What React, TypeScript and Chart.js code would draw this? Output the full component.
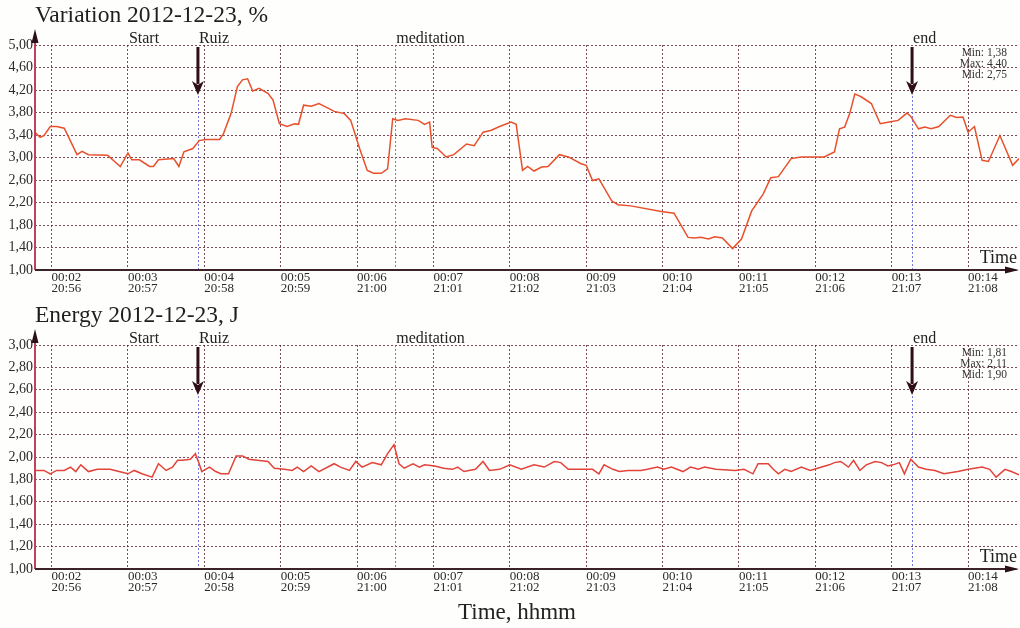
import React, { useEffect, useRef } from 'react';
import { Chart, registerables } from 'chart.js';

Chart.register(...registerables);

// ---------- data ----------
const varTimes = [107,111,114,119,124,130,140,144,149,164,174,180,183,189,197,200,204,216,220,224,231,236,241,252,255,261,266,270,274,278,283,290,294,299,305,311,314,318,324,330,338,342,350,355,362,368,373,379,384,388,392,398,408,413,417,419,423,430,436,446,452,459,465,472,481,485,490,494,499,505,510,519,526,536,540,545,550,560,565,575,599,609,620,625,630,636,641,647,655,662,670,679,685,691,701,709,727,735,739,743,747,751,756,764,771,778,785,792,795,801,806,811,817,826,831,836,840,845,851,856,865,875,880];
const varValues = [3.45,3.36,3.39,3.55,3.55,3.52,3.05,3.11,3.05,3.04,2.84,3.08,2.96,2.96,2.84,2.84,2.96,2.98,2.84,3.10,3.16,3.30,3.32,3.32,3.42,3.78,4.26,4.38,4.40,4.18,4.23,4.14,4.02,3.60,3.55,3.60,3.59,3.93,3.91,3.96,3.87,3.82,3.78,3.66,3.16,2.77,2.72,2.72,2.80,3.69,3.66,3.69,3.66,3.59,3.63,3.18,3.16,3.01,3.05,3.24,3.21,3.45,3.48,3.55,3.63,3.59,2.77,2.84,2.76,2.83,2.84,3.05,3.01,2.89,2.86,2.59,2.62,2.23,2.16,2.14,2.04,2.01,1.58,1.57,1.58,1.55,1.59,1.57,1.38,1.55,2.05,2.35,2.64,2.66,2.98,3.01,3.01,3.10,3.51,3.54,3.78,4.13,4.08,3.96,3.60,3.63,3.66,3.79,3.73,3.51,3.54,3.51,3.55,3.75,3.71,3.72,3.45,3.55,2.95,2.93,3.39,2.86,2.98];

const energyTimes = [107,114,119,124,130,135,139,143,149,156,166,173,180,185,191,199,204,210,215,219,223,229,233,236,238,244,249,253,259,265,270,275,290,295,303,309,313,318,324,330,342,347,354,359,364,372,379,384,389,393,397,404,409,413,421,428,435,439,444,453,459,464,472,480,489,499,507,515,520,526,536,545,550,554,561,566,573,583,588,596,601,607,616,622,628,633,642,657,664,671,675,683,687,691,696,701,709,716,725,731,735,740,746,750,755,760,767,772,777,781,786,790,795,801,807,814,821,832,840,845,851,857,862,869,874,880];
const energyValues = [1.88,1.88,1.85,1.88,1.88,1.91,1.87,1.93,1.87,1.89,1.89,1.87,1.85,1.88,1.85,1.82,1.94,1.88,1.91,1.97,1.97,1.98,2.03,1.94,1.87,1.91,1.87,1.85,1.85,2.01,2.01,1.98,1.96,1.90,1.89,1.88,1.91,1.87,1.92,1.87,1.94,1.91,1.88,1.96,1.91,1.95,1.93,2.03,2.11,1.94,1.90,1.94,1.91,1.93,1.92,1.90,1.89,1.91,1.87,1.89,1.96,1.88,1.89,1.93,1.89,1.93,1.91,1.96,1.95,1.89,1.89,1.89,1.85,1.93,1.89,1.87,1.88,1.88,1.89,1.91,1.89,1.91,1.87,1.91,1.89,1.91,1.89,1.88,1.89,1.85,1.94,1.94,1.89,1.85,1.89,1.87,1.91,1.88,1.91,1.93,1.95,1.96,1.91,1.97,1.88,1.93,1.96,1.95,1.92,1.93,1.95,1.85,1.98,1.91,1.89,1.88,1.85,1.87,1.89,1.90,1.91,1.89,1.82,1.89,1.87,1.84];

const tickSeconds = [120,180,240,300,360,420,480,540,600,660,720,780,840];
const elapsedLabels = ['00:02','00:03','00:04','00:05','00:06','00:07','00:08','00:09','00:10','00:11','00:12','00:13','00:14'];
const clockLabels = ['20:56','20:57','20:58','20:59','21:00','21:01','21:02','21:03','21:04','21:05','21:06','21:07','21:08'];

const varTicks = [1.0,1.4,1.8,2.2,2.6,3.0,3.4,3.8,4.2,4.6,5.0];
const energyTicks = [1.0,1.2,1.4,1.6,1.8,2.0,2.2,2.4,2.6,2.8,3.0];

const eventNames = ['Start','Ruiz','meditation','end'];
const eventTimes = [180,235,390,796];
const eventArrow = [false,true,false,true];
const eventLine = [false,true,true,true];

const varStats = ['Min: 1,38','Max: 4,40','Mid: 2,75'];
const energyStats = ['Min: 1,81','Max: 2,11','Mid: 1,90'];

const X_MIN = 107;
const X_MAX = 880;
const SERIF = '"Liberation Serif", "Times New Roman", serif';

function makeOverlay(title: string, stats: string[], bottomLabel: string | null) {
  return {
    id: 'overlay',
    beforeDatasetsDraw(chart: any) {
      const { ctx, chartArea: a } = chart;
      const xs = chart.scales.x;
      ctx.save();
      ctx.strokeStyle = 'rgba(105,105,225,0.9)';
      ctx.lineWidth = 1;
      ctx.setLineDash([2, 2]);
      eventTimes.forEach((t, i) => {
        if (!eventLine[i]) return;
        const x = Math.round(xs.getPixelForValue(t)) + 0.5;
        ctx.beginPath();
        ctx.moveTo(x, eventArrow[i] ? 96 : a.top);
        ctx.lineTo(x, a.bottom);
        ctx.stroke();
      });
      ctx.restore();
    },
    afterDraw(chart: any) {
      const { ctx, chartArea: a } = chart;
      const xs = chart.scales.x;
      ctx.save();
      // title
      ctx.fillStyle = '#1e1e1e';
      ctx.font = `23.5px ${SERIF}`;
      ctx.textAlign = 'left';
      ctx.textBaseline = 'alphabetic';
      ctx.fillText(title, 35, 22);

      // y axis (red) with arrow
      ctx.strokeStyle = '#c2405a';
      ctx.lineWidth = 2;
      ctx.beginPath();
      ctx.moveTo(a.left, a.bottom);
      ctx.lineTo(a.left, 36);
      ctx.stroke();
      ctx.fillStyle = '#2a1018';
      ctx.beginPath();
      ctx.moveTo(a.left, 29);
      ctx.lineTo(a.left - 3.5, 43);
      ctx.lineTo(a.left + 3.5, 43);
      ctx.closePath();
      ctx.fill();

      // x axis with arrow
      ctx.strokeStyle = '#3a2228';
      ctx.lineWidth = 2;
      ctx.beginPath();
      ctx.moveTo(a.left, a.bottom);
      ctx.lineTo(a.right - 6, a.bottom);
      ctx.stroke();
      ctx.fillStyle = '#2a1018';
      ctx.beginPath();
      ctx.moveTo(a.right, a.bottom);
      ctx.lineTo(a.right - 14, a.bottom - 3.5);
      ctx.lineTo(a.right - 14, a.bottom + 3.5);
      ctx.closePath();
      ctx.fill();

      // event labels and arrows
      ctx.font = `16px ${SERIF}`;
      ctx.fillStyle = '#222';
      eventTimes.forEach((t, i) => {
        const x = xs.getPixelForValue(t);
        ctx.textAlign = 'left';
        ctx.fillText(eventNames[i], x + 1, 43);
        if (eventArrow[i]) {
          ctx.strokeStyle = '#2e0e18';
          ctx.lineWidth = 3;
          ctx.beginPath();
          ctx.moveTo(x, 47);
          ctx.lineTo(x, 84);
          ctx.stroke();
          ctx.fillStyle = '#2e0e18';
          ctx.beginPath();
          ctx.moveTo(x, 95);
          ctx.lineTo(x - 6, 81);
          ctx.lineTo(x, 85);
          ctx.lineTo(x + 6, 81);
          ctx.closePath();
          ctx.fill();
          ctx.fillStyle = '#222';
        }
      });

      // stats box
      ctx.font = `11.5px ${SERIF}`;
      ctx.fillStyle = '#333';
      ctx.textAlign = 'right';
      stats.forEach((s, i) => ctx.fillText(s, 1007, 56 + i * 11));

      // axis label "Time"
      ctx.font = `18px ${SERIF}`;
      ctx.fillStyle = '#222';
      ctx.textAlign = 'right';
      ctx.fillText('Time', 1017, a.bottom - 7);

      if (bottomLabel) {
        ctx.font = `23px ${SERIF}`;
        ctx.textAlign = 'center';
        ctx.fillText(bottomLabel, 517, 319);
      }
      ctx.restore();
    },
  };
}

function buildConfig(
  times: number[], values: number[], yTicks: number[], title: string,
  stats: string[], color: string, xHeight: number, bottomLabel: string | null,
): any {
  return {
    type: 'line',
    data: {
      datasets: [{
        data: times.map((t, i) => ({ x: t, y: values[i] })),
        borderColor: color,
        borderWidth: 1.5,
        pointRadius: 0,
        tension: 0,
        fill: false,
      }],
    },
    options: {
      animation: false,
      responsive: false,
      maintainAspectRatio: false,
      devicePixelRatio: 1,
      layout: { padding: { top: 45, right: 1, left: 0, bottom: 0 } },
      plugins: { legend: { display: false }, tooltip: { enabled: false }, title: { display: false } },
      scales: {
        x: {
          type: 'linear',
          min: X_MIN,
          max: X_MAX,
          afterBuildTicks: (s: any) => { s.ticks = tickSeconds.map((v) => ({ value: v })); },
          afterFit: (s: any) => { s.height = xHeight; },
          ticks: {
            autoSkip: false,
            maxRotation: 0,
            minRotation: 0,
            align: 'start',
            padding: 1.5,
            color: '#2a2a2a',
            font: { family: SERIF, size: 13, lineHeight: 0.88 },
            callback: (v: number) => {
              const i = tickSeconds.indexOf(v);
              return i >= 0 ? [elapsedLabels[i], clockLabels[i]] : '';
            },
          },
          grid: { color: 'rgba(100,45,62,0.85)', lineWidth: 1, drawTicks: false },
          border: { display: false, dash: [2, 2] },
        },
        y: {
          type: 'linear',
          min: yTicks[0],
          max: yTicks[yTicks.length - 1],
          afterBuildTicks: (s: any) => { s.ticks = yTicks.map((v) => ({ value: v })); },
          afterFit: (s: any) => { s.width = 35; },
          ticks: {
            padding: 2,
            color: '#2a2a2a',
            font: { family: SERIF, size: 14 },
            callback: (v: number) => v.toFixed(2).replace('.', ','),
          },
          grid: { color: 'rgba(100,45,62,0.85)', lineWidth: 1, drawTicks: false },
          border: { display: false, dash: [2, 2] },
        },
      },
    },
    plugins: [makeOverlay(title, stats, bottomLabel)],
  };
}

export default function App() {
  const topRef = useRef<HTMLCanvasElement>(null);
  const botRef = useRef<HTMLCanvasElement>(null);

  useEffect(() => {
    const c1 = new Chart(topRef.current as HTMLCanvasElement,
      buildConfig(varTimes, varValues, varTicks, 'Variation 2012-12-23, %', varStats, '#e8502c', 30, null));
    const c2 = new Chart(botRef.current as HTMLCanvasElement,
      buildConfig(energyTimes, energyValues, energyTicks, 'Energy 2012-12-23, J', energyStats, '#e2433a', 59, 'Time, hhmm'));
    return () => { c1.destroy(); c2.destroy(); };
  }, []);

  return (
    <div style={{ position: 'fixed', left: 0, top: 0, width: 1020, height: 628, background: '#fefefc', overflow: 'hidden' }}>
      <canvas ref={topRef} width={1020} height={300} style={{ position: 'absolute', left: 0, top: 0, width: 1020, height: 300 }} />
      <canvas ref={botRef} width={1020} height={328} style={{ position: 'absolute', left: 0, top: 300, width: 1020, height: 328 }} />
    </div>
  );
}
